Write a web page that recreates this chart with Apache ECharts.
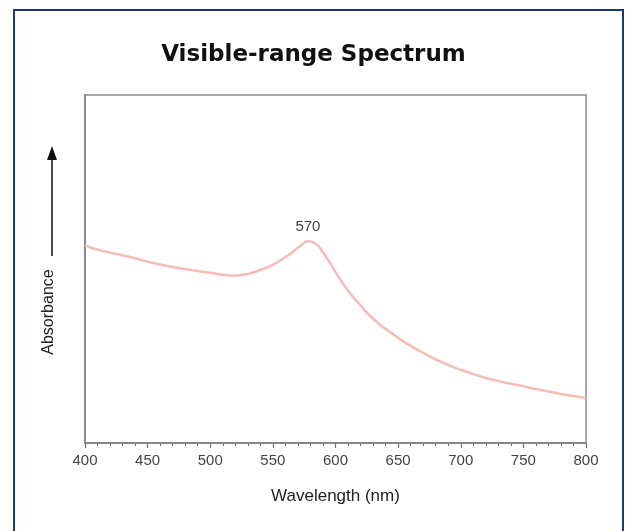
<!DOCTYPE html>
<html>
<head>
<meta charset="utf-8">
<script src="https://cdn.jsdelivr.net/npm/echarts@6/dist/echarts.min.js"></script>
<style>
  html, body { margin: 0; padding: 0; background: #fff; }
  #chart { width: 627px; height: 531px; }
</style>
</head>
<body>
<div id="chart"></div>
<script>
// wavelength (nm) and absorbance (arbitrary units)
var wavelength = [400, 405, 410, 420, 430, 440, 450, 460, 470, 480, 490, 500, 510, 520, 530, 540, 550, 560, 565, 570, 575, 578, 582, 586, 590, 595, 600, 605, 610, 620, 630, 640, 650, 660, 670, 680, 690, 700, 710, 720, 730, 740, 750, 760, 770, 780, 790, 800];
var absorbance = [0.569, 0.561, 0.556, 0.547, 0.539, 0.531, 0.521, 0.513, 0.506, 0.500, 0.494, 0.489, 0.483, 0.481, 0.486, 0.497, 0.512, 0.534, 0.547, 0.561, 0.575, 0.580, 0.577, 0.567, 0.548, 0.521, 0.491, 0.463, 0.438, 0.395, 0.357, 0.328, 0.302, 0.279, 0.259, 0.240, 0.224, 0.210, 0.198, 0.187, 0.178, 0.170, 0.163, 0.155, 0.148, 0.141, 0.135, 0.129];
var xTicks = [400, 450, 500, 550, 600, 650, 700, 750, 800];
var peakLabel = '570';
var peakIndex = 21;

var seriesData = wavelength.map(function (w, i) { return [w, absorbance[i]]; });

var myChart = echarts.init(document.getElementById('chart'));
var option = {
    backgroundColor: '#fff',
    animation: false,
    title: {
        text: 'Visible-range Spectrum',
        left: 'center',
        top: 39,
        textStyle: {
            fontFamily: 'DejaVu Sans',
            fontWeight: 'bold',
            fontSize: 23,
            color: '#111'
        }
    },
    grid: {
        left: 85,
        right: 41,
        top: 95,
        bottom: 88,
        show: true,
        borderColor: '#8a8a8a',
        borderWidth: 1.5,
        backgroundColor: '#fff'
    },
    xAxis: {
        type: 'value',
        min: xTicks[0],
        max: xTicks[xTicks.length - 1],
        interval: 50,
        name: 'Wavelength (nm)',
        nameLocation: 'middle',
        nameGap: 45,
        nameTextStyle: { fontFamily: 'Liberation Sans', fontSize: 17, color: '#222' },
        axisLine: { show: true, lineStyle: { color: '#808080', width: 1.5 } },
        axisTick: { show: true, inside: false, length: 5, lineStyle: { color: '#707070', width: 1.2 } },
        minorTick: { show: true, splitNumber: 5, length: 3, lineStyle: { color: '#707070', width: 1 } },
        axisLabel: { fontFamily: 'Liberation Sans', fontSize: 15, color: '#444', margin: 10 },
        splitLine: { show: false }
    },
    yAxis: {
        type: 'value',
        min: 0,
        max: 1,
        axisLine: { show: true, lineStyle: { color: '#808080', width: 1.5 } },
        axisTick: { show: false },
        axisLabel: { show: false },
        splitLine: { show: false }
    },
    series: [{
        type: 'line',
        data: seriesData,
        smooth: 0.5,
        showSymbol: false,
        lineStyle: { color: '#f6bcb6', width: 2.5 },
        markPoint: {
            symbol: 'circle',
            symbolSize: 0,
            label: {
                show: true,
                position: 'top',
                distance: 7,
                formatter: peakLabel,
                fontFamily: 'Liberation Sans',
                fontSize: 15,
                color: '#444'
            },
            data: [{ coord: seriesData[peakIndex] }]
        }
    }],
    graphic: [
        {
            type: 'rect',
            silent: true,
            shape: { x: 14, y: 10, width: 609, height: 540 },
            style: { fill: 'none', stroke: '#1d3a6e', lineWidth: 2 }
        },
        {
            type: 'text',
            x: 49,
            y: 312,
            rotation: Math.PI / 2,
            style: {
                text: 'Absorbance',
                fontFamily: 'Liberation Sans',
                fontSize: 16,
                fill: '#222',
                align: 'center',
                verticalAlign: 'middle'
            }
        },
        {
            type: 'line',
            shape: { x1: 52, y1: 256, x2: 52, y2: 158 },
            style: { stroke: '#111', lineWidth: 1.5 }
        },
        {
            type: 'polygon',
            shape: { points: [[52, 146], [47, 160], [57, 160]] },
            style: { fill: '#111' }
        }
    ]
};
myChart.setOption(option);
</script>
</body>
</html>
